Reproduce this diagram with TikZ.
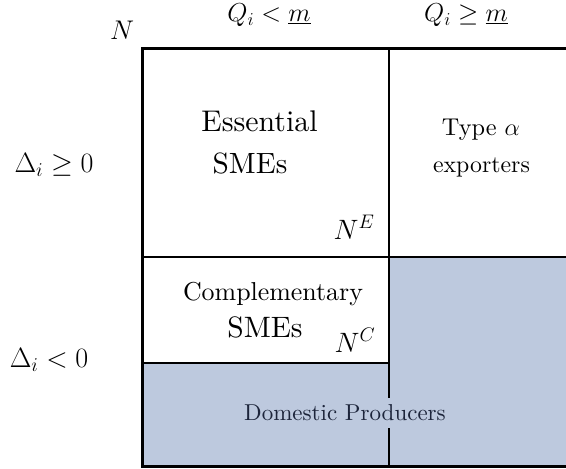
\documentclass[tikz,border=0pt]{standalone}
\usepackage{fix-cm}
\usepackage{fontspec}
\setmainfont{lmroman10-regular.otf}
\definecolor{cellblue}{RGB}{189,201,222}
\definecolor{textnavy}{RGB}{28,36,58}
\newcommand{\fsz}[1]{\fontsize{#1}{#1}\selectfont}
\begin{document}
\begin{tikzpicture}[x=1pt,y=-1pt,
  lbl/.style={inner sep=0pt, anchor=base},
  thinline/.style={line width=1.2pt},
  thickline/.style={line width=3pt}]
\useasboundingbox (0,0) rectangle (566,469);
% shaded cells
\fill[cellblue] (389,257) rectangle (572,466);
\fill[cellblue] (142,363) rectangle (389,466);
% inner lines
\draw[thinline] (389,48) -- (389,466);
\draw[thinline] (142,257) -- (572,257);
\draw[thinline] (142,363) -- (389,363);
% outer frame
\draw[thickline] (572,48) -- (142,48) -- (142,466) -- (572,466);
% axis labels
\node[lbl] (n) at (122,39) {\fsz{27}$N$};
\node[lbl] (qlow) at (269,21.5) {\fsz{26}$Q_i<\underline{m}$};
\node[lbl] (qhigh) at (466,21.5) {\fsz{26}$Q_i\geq\underline{m}$};
\node[lbl] (dpos) at (54,172) {\fsz{28}$\Delta_i\geq 0$};
\node[lbl] (dneg) at (49,367) {\fsz{28}$\Delta_i< 0$};
% cell texts
\node[lbl] (ess1) at (259.5,131.5) {\fsz{29.9}Essential};
\node[lbl] (ess2) at (250,173) {\fsz{29.3}SMEs};
\node[lbl] (ne) at (354,239) {\fsz{28}$N^E$};
\node[lbl] (typ1) at (481,135) {\fsz{24.3}Type $\alpha$};
\node[lbl] (typ2) at (481.5,172) {\fsz{23.8}exporters};
\node[lbl] (comp1) at (273,300) {\fsz{25.9}Complementary};
\node[lbl] (comp2) at (265,337) {\fsz{29.5}SMEs};
\node[lbl] (nc) at (355,352) {\fsz{28}$N^C$};
\node[lbl, fill=cellblue, inner xsep=2pt, inner ysep=7pt, text=textnavy] (dom) at (345,420.7) {\fsz{23}Domestic Producers};
\end{tikzpicture}
\end{document}
